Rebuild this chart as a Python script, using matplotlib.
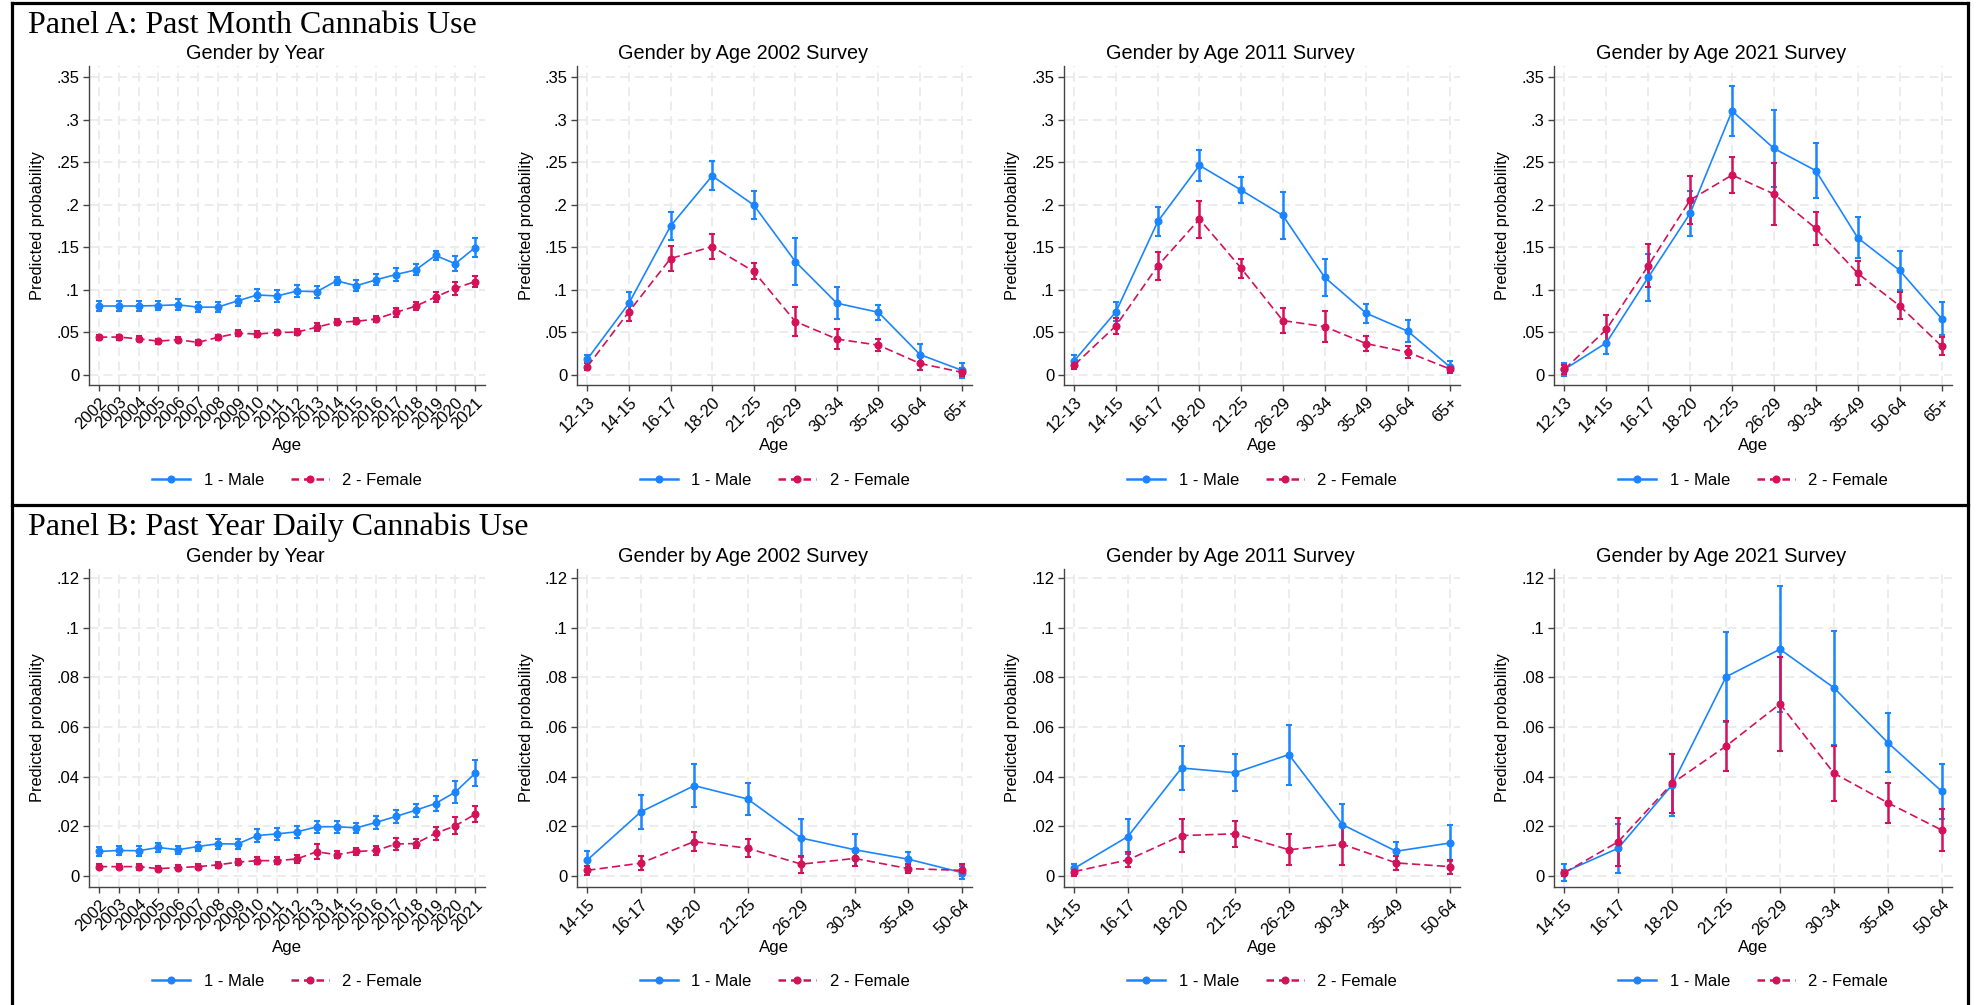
import numpy as np
import matplotlib
matplotlib.use('Agg')
import matplotlib.pyplot as plt
from matplotlib.lines import Line2D

plt.rcParams['font.family'] = ['Liberation Sans', 'DejaVu Sans']

# Stata stcolor scheme colours
BLUE = '#1a85ff'
RED = '#d41159'

# categories
years = [2002, 2003, 2004, 2005, 2006, 2007, 2008, 2009, 2010, 2011,
         2012, 2013, 2014, 2015, 2016, 2017, 2018, 2019, 2020, 2021]
ages_a = ['12-13', '14-15', '16-17', '18-20', '21-25', '26-29', '30-34', '35-49', '50-64', '65+']
ages_b = ['14-15', '16-17', '18-20', '21-25', '26-29', '30-34', '35-49', '50-64']

yticks_a = [0, 0.05, 0.1, 0.15, 0.2, 0.25, 0.3, 0.35]
yticklabels_a = ['0', '.05', '.1', '.15', '.2', '.25', '.3', '.35']
yticks_b = [0, 0.02, 0.04, 0.06, 0.08, 0.1, 0.12]
yticklabels_b = ['0', '.02', '.04', '.06', '.08', '.1', '.12']

# Panel A: past month use -- by year
pm_year_male = [0.081, 0.081, 0.081, 0.0816, 0.0824, 0.0797, 0.0797, 0.087, 0.094, 0.0928,
                0.0986, 0.0978, 0.1106, 0.1048, 0.1118, 0.118, 0.1234, 0.1404, 0.1307, 0.1497]
pm_year_male_ci = [0.006, 0.006, 0.0055, 0.0055, 0.0065, 0.006, 0.006, 0.006, 0.007, 0.007,
                   0.007, 0.007, 0.005, 0.0065, 0.0065, 0.0075, 0.0065, 0.0055, 0.0085, 0.0115]
pm_year_female = [0.0445, 0.0445, 0.0425, 0.0398, 0.0414, 0.0383, 0.0441, 0.0491, 0.048, 0.0499,
                  0.0503, 0.0561, 0.0619, 0.063, 0.0657, 0.0735, 0.0808, 0.0916, 0.1017, 0.1098]
pm_year_female_ci = [0.003, 0.003, 0.003, 0.003, 0.003, 0.003, 0.003, 0.0035, 0.0035, 0.0035,
                     0.0035, 0.0045, 0.0035, 0.0035, 0.0035, 0.005, 0.005, 0.006, 0.0075, 0.006]

# Panel A: by age, 2002 / 2011 / 2021 surveys
pm_02_male = [0.0187, 0.0843, 0.175, 0.2339, 0.1997, 0.1333, 0.0843, 0.0736, 0.0239, 0.0056]
pm_02_male_ci = [0.0044, 0.013, 0.017, 0.017, 0.016, 0.028, 0.0185, 0.009, 0.012, 0.0088]
pm_02_female = [0.0099, 0.0744, 0.1368, 0.1508, 0.1217, 0.0628, 0.0422, 0.035, 0.0135, 0.0032]
pm_02_female_ci = [0.004, 0.0107, 0.015, 0.0143, 0.0095, 0.017, 0.012, 0.007, 0.008, 0.005]

pm_11_male = [0.0169, 0.0745, 0.1803, 0.2462, 0.2172, 0.1874, 0.1149, 0.0725, 0.0514, 0.0098]
pm_11_male_ci = [0.0067, 0.0114, 0.0165, 0.018, 0.0157, 0.0274, 0.0216, 0.011, 0.0129, 0.0065]
pm_11_female = [0.0118, 0.058, 0.1282, 0.1831, 0.1254, 0.0639, 0.0568, 0.0368, 0.0267, 0.0071]
pm_11_female_ci = [0.005, 0.0094, 0.0168, 0.0216, 0.011, 0.0149, 0.0178, 0.0086, 0.0069, 0.005]

pm_21_male = [0.0066, 0.0378, 0.1147, 0.19, 0.3102, 0.2661, 0.24, 0.1611, 0.1229, 0.0663]
pm_21_male_ci = [0.0078, 0.0133, 0.0275, 0.0265, 0.0295, 0.045, 0.0324, 0.024, 0.023, 0.0193]
pm_21_female = [0.0066, 0.0535, 0.1284, 0.2056, 0.2349, 0.2126, 0.1721, 0.1194, 0.0812, 0.0339]
pm_21_female_ci = [0.005, 0.0174, 0.0255, 0.0277, 0.021, 0.0367, 0.0195, 0.014, 0.016, 0.0105]

# Panel B: past year daily use -- by year
dd_year_male = [0.0099, 0.0103, 0.0102, 0.0115, 0.0106, 0.0119, 0.013, 0.0129, 0.0163, 0.017,
                0.0178, 0.0198, 0.0199, 0.0194, 0.0216, 0.024, 0.0265, 0.0292, 0.0338, 0.0414]
dd_year_male_ci = [0.0018, 0.002, 0.002, 0.0018, 0.0017, 0.002, 0.002, 0.0019, 0.0027, 0.0025,
                   0.0024, 0.0025, 0.0024, 0.002, 0.0027, 0.0027, 0.0027, 0.003, 0.0045, 0.0053]
dd_year_female = [0.0038, 0.0038, 0.0038, 0.003, 0.0034, 0.0038, 0.0045, 0.0056, 0.0062, 0.0062,
                  0.0069, 0.0098, 0.0086, 0.0099, 0.0103, 0.0129, 0.0131, 0.0172, 0.0202, 0.0249]
dd_year_female_ci = [0.001, 0.001, 0.0012, 0.001, 0.001, 0.001, 0.0011, 0.0012, 0.0015, 0.0015,
                     0.0015, 0.003, 0.0015, 0.0015, 0.0017, 0.0023, 0.002, 0.0027, 0.0034, 0.0033]

# Panel B: by age
dd_02_male = [0.0064, 0.0258, 0.0364, 0.031, 0.0153, 0.0106, 0.0068, 0.0014]
dd_02_male_ci = [0.0036, 0.007, 0.0086, 0.0065, 0.0077, 0.0065, 0.0027, 0.0027]
dd_02_female = [0.0023, 0.0052, 0.0139, 0.0112, 0.0048, 0.0071, 0.003, 0.0023]
dd_02_female_ci = [0.0018, 0.0027, 0.0037, 0.0037, 0.0034, 0.0029, 0.0018, 0.0024]

dd_11_male = [0.0031, 0.0159, 0.0435, 0.0416, 0.0489, 0.0207, 0.01, 0.0133]
dd_11_male_ci = [0.0016, 0.0069, 0.0088, 0.0074, 0.0121, 0.0085, 0.0038, 0.0074]
dd_11_female = [0.0018, 0.0065, 0.0163, 0.017, 0.0106, 0.0128, 0.0053, 0.0038]
dd_11_female_ci = [0.0018, 0.003, 0.0067, 0.0052, 0.0063, 0.0082, 0.0029, 0.0028]

dd_21_male = [0.0016, 0.0112, 0.0367, 0.0802, 0.0913, 0.0758, 0.0537, 0.0341]
dd_21_male_ci = [0.0034, 0.0098, 0.0124, 0.0182, 0.0254, 0.0229, 0.0118, 0.0111]
dd_21_female = [0.0013, 0.0138, 0.0373, 0.0523, 0.0693, 0.0414, 0.0295, 0.0185]
dd_21_female_ci = [0.0013, 0.0096, 0.0118, 0.0101, 0.0189, 0.011, 0.008, 0.0085]

W, H = 1977, 1005
fig = plt.figure(figsize=(W / 100, H / 100), dpi=100)


def rect(x0, x1, top, bottom):
    # pixel box -> figure fraction
    return [x0 / W, 1 - bottom / H, (x1 - x0) / W, (bottom - top) / H]


def draw(ax, labels, male, male_ci, female, female_ci, title, yticks, yticklabels, ylim, is_year):
    if is_year:
        x = np.array(labels)
        ax.set_xlim(labels[0] - 0.5, labels[-1] + 0.5)
    else:
        x = np.arange(len(labels))
        pad = 0.25 if len(labels) == 10 else 0.19
        ax.set_xlim(-pad, len(labels) - 1 + pad)

    # confidence intervals first, then the lines
    ax.errorbar(x, male, yerr=male_ci, fmt='none', ecolor=BLUE, elinewidth=1.8,
                capsize=2.5, capthick=1.5, zorder=2)
    ax.errorbar(x, female, yerr=female_ci, fmt='none', ecolor=RED, elinewidth=1.8,
                capsize=2.5, capthick=1.5, zorder=2)
    ax.plot(x, male, color=BLUE, lw=1.2, marker='o', ms=4.8, zorder=3)
    ax.plot(x, female, color=RED, lw=1.2, ls='--', dashes=(5, 2.5), marker='o', ms=4.8, zorder=3)

    ax.set_xticks(x)
    ax.set_xticklabels([str(l) for l in labels], rotation=45, ha='right',
                       rotation_mode='anchor', fontsize=12)
    ax.set_yticks(yticks)
    ax.set_yticklabels(yticklabels, fontsize=12)
    ax.set_ylim(*ylim)

    ax.grid(True, color='#ebebeb', ls=(0, (5, 3)), lw=1.3, zorder=0)
    ax.set_axisbelow(True)
    for s in ['top', 'right']:
        ax.spines[s].set_visible(False)
    for s in ['left', 'bottom']:
        ax.spines[s].set_color('#444444')
        ax.spines[s].set_linewidth(1.0)
    ax.tick_params(direction='out', length=4, width=1, color='#444444', pad=3)

    # Stata centres the subtitle over the whole graph, not the plot region
    ax.set_title(title, fontsize=14.3, pad=5, x=0.421)
    ax.set_ylabel('Predicted probability', fontsize=11.8)
    ax.yaxis.set_label_coords(-0.11, 0.5)
    ax.set_xlabel('Age', fontsize=12.2)
    ax.xaxis.set_label_coords(0.5, -0.166)

    handles = [Line2D([], [], color=BLUE, lw=1.8, marker='o', ms=4.8),
               Line2D([], [], color=RED, lw=1.8, ls='--', dashes=(3, 2), marker='o', ms=4.8)]
    ax.legend(handles, ['1 - Male', '2 - Female'], loc='center', bbox_to_anchor=(0.5, -0.298),
              ncol=2, frameon=False, fontsize=12, handlelength=2.3, columnspacing=1.6,
              handletextpad=0.8)


cols = [(89, 485), (577, 972), (1064, 1460), (1554, 1952)]

panel_a = [
    (years, pm_year_male, pm_year_male_ci, pm_year_female, pm_year_female_ci, 'Gender by Year', True),
    (ages_a, pm_02_male, pm_02_male_ci, pm_02_female, pm_02_female_ci, 'Gender by Age 2002 Survey', False),
    (ages_a, pm_11_male, pm_11_male_ci, pm_11_female, pm_11_female_ci, 'Gender by Age 2011 Survey', False),
    (ages_a, pm_21_male, pm_21_male_ci, pm_21_female, pm_21_female_ci, 'Gender by Age 2021 Survey', False),
]
panel_b = [
    (years, dd_year_male, dd_year_male_ci, dd_year_female, dd_year_female_ci, 'Gender by Year', True),
    (ages_b, dd_02_male, dd_02_male_ci, dd_02_female, dd_02_female_ci, 'Gender by Age 2002 Survey', False),
    (ages_b, dd_11_male, dd_11_male_ci, dd_11_female, dd_11_female_ci, 'Gender by Age 2011 Survey', False),
    (ages_b, dd_21_male, dd_21_male_ci, dd_21_female, dd_21_female_ci, 'Gender by Age 2021 Survey', False),
]

for (x0, x1), p in zip(cols, panel_a):
    ax = fig.add_axes(rect(x0, x1, 66, 385))
    draw(ax, p[0], p[1], p[2], p[3], p[4], p[5], yticks_a, yticklabels_a, (-0.0118, 0.363), p[6])

for (x0, x1), p in zip(cols, panel_b):
    ax = fig.add_axes(rect(x0, x1, 569, 887))
    draw(ax, p[0], p[1], p[2], p[3], p[4], p[5], yticks_b, yticklabels_b, (-0.0044, 0.1236), p[6])

# panel headings
fig.text(28 / W, 1 - 33 / H, 'Panel A: Past Month Cannabis Use', family='Liberation Serif',
         fontsize=23, va='baseline', ha='left')
fig.text(28 / W, 1 - 535 / H, 'Panel B: Past Year Daily Cannabis Use', family='Liberation Serif',
         fontsize=23, va='baseline', ha='left')

# table borders
lw = 2.3
fig.add_artist(Line2D([12 / W, 1968 / W], [1 - 3 / H, 1 - 3 / H], color='black', lw=lw))
fig.add_artist(Line2D([12 / W, 1968 / W], [1 - 505 / H, 1 - 505 / H], color='black', lw=lw))
fig.add_artist(Line2D([12 / W, 12 / W], [1 - 3 / H, 0], color='black', lw=lw))
fig.add_artist(Line2D([1968 / W, 1968 / W], [1 - 3 / H, 0], color='black', lw=lw))

fig.savefig('out.png', dpi=100, facecolor='white')
